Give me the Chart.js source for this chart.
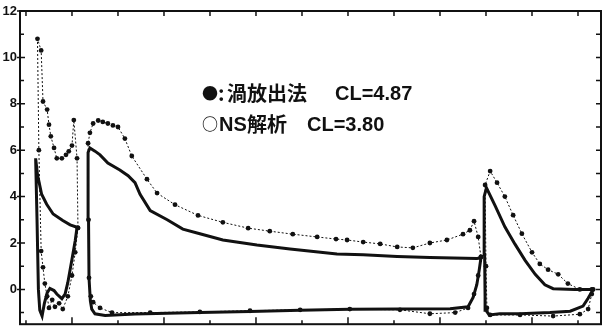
<!DOCTYPE html>
<html>
<head>
<meta charset="utf-8">
<script src="https://cdn.jsdelivr.net/npm/chart.js@4.4.1/dist/chart.umd.min.js"></script>
<style>
  html, body { margin: 0; padding: 0; background: #fff; }
  canvas { display: block; }
</style>
</head>
<body>
<canvas id="chartCp" width="607" height="335"></canvas>
<script>
// eje x: posicion sobre la cuerda, eje y: -Cp
const xTicks = [-0.1, 0, 0.1, 0.2, 0.3, 0.4, 0.5, 0.6, 0.7, 0.8, 0.9, 1.0, 1.1];
const yTicks = [-1, 0, 1, 2, 3, 4, 5, 6, 7, 8, 9, 10, 11, 12];

// 渦放出法 (puntos negros)
const slatVortexUpper = [[-0.075, 10.8], [-0.067, 10.3], [-0.063, 8.1], [-0.054, 7.75], [-0.05, 7.1], [-0.046, 6.6],
  [-0.039, 6.1], [-0.033, 5.65], [-0.022, 5.65], [-0.013, 5.8], [-0.007, 5.95], [0.0, 6.2], [0.004, 7.3], [0.011, 5.65], [0.013, 2.65]];
const slatVortexLower = [[-0.075, 10.8], [-0.072, 6.0], [-0.067, 1.65], [-0.063, 0.95], [-0.059, 0.25], [-0.054, -0.3],
  [-0.05, -0.8], [-0.043, -0.45], [-0.037, -0.75], [-0.028, -0.6], [-0.02, -0.85], [-0.009, -0.3], [0.0, 0.6], [0.007, 1.6], [0.013, 2.65]];
const mainVortexUpper = [[0.035, 6.3], [0.039, 6.75], [0.046, 7.15], [0.057, 7.28], [0.067, 7.22], [0.078, 7.15], [0.089, 7.07],
  [0.1, 7.0], [0.115, 6.5], [0.13, 5.75], [0.163, 4.75], [0.185, 4.15], [0.224, 3.65], [0.274, 3.19], [0.328, 2.89],
  [0.383, 2.64], [0.43, 2.51], [0.48, 2.38], [0.533, 2.26], [0.574, 2.17], [0.598, 2.13], [0.633, 2.04], [0.67, 1.96],
  [0.707, 1.83], [0.741, 1.79], [0.778, 2.0], [0.815, 2.13], [0.85, 2.38], [0.865, 2.55], [0.874, 2.94], [0.883, 2.26], [0.889, 1.4]];
const mainVortexLower = [[0.035, 6.3], [0.036, 3.0], [0.037, 0.5], [0.041, -0.3], [0.046, -0.55], [0.061, -0.8], [0.087, -1.0],
  [0.17, -1.0], [0.278, -0.97], [0.387, -0.92], [0.496, -0.88], [0.604, -0.85], [0.713, -0.88], [0.778, -1.05],
  [0.833, -1.0], [0.861, -0.8], [0.874, -0.2], [0.883, 0.6], [0.889, 1.4]];
const flapVortexUpper = [[0.898, 4.5], [0.909, 5.1], [0.924, 4.6], [0.941, 4.0], [0.959, 3.2], [0.978, 2.4], [1.0, 1.6],
  [1.017, 1.1], [1.035, 0.85], [1.057, 0.65], [1.078, 0.25], [1.104, 0.0], [1.13, 0.0]];
const flapVortexLower = [[0.898, 4.5], [0.9, 1.0], [0.902, -0.8], [0.909, -1.1], [0.974, -1.1], [1.046, -1.15],
  [1.104, -1.07], [1.122, -0.85], [1.13, -0.2], [1.133, 0.0]];

// NS解析 (linea gruesa)
const slatNsUpper = [[-0.079, 5.65], [-0.075, 4.95], [-0.066, 4.1], [-0.055, 3.67], [-0.041, 3.25], [-0.02, 2.97], [-0.004, 2.78], [0.011, 2.68]];
const slatNsLower = [[-0.079, 5.65], [-0.076, 3.0], [-0.073, 0.0], [-0.07, -0.9], [-0.065, -1.15], [-0.06, -0.6], [-0.054, -0.15],
  [-0.048, 0.04], [-0.039, -0.05], [-0.033, -0.2], [-0.022, -0.4], [-0.015, -0.2], [-0.009, 0.3], [0.0, 1.3], [0.007, 2.1], [0.011, 2.68]];
const mainNsUpper = [[0.035, 5.9], [0.039, 6.1], [0.05, 5.96], [0.061, 5.8], [0.078, 5.45], [0.104, 5.15], [0.122, 4.9],
  [0.137, 4.6], [0.148, 4.1], [0.17, 3.4], [0.207, 3.0], [0.241, 2.6], [0.278, 2.4], [0.328, 2.13], [0.402, 1.91],
  [0.474, 1.74], [0.576, 1.53], [0.633, 1.49], [0.707, 1.42], [0.778, 1.37], [0.88, 1.33], [0.889, 1.35]];
const mainNsLower = [[0.035, 5.9], [0.036, 3.0], [0.037, 0.5], [0.04, -0.5], [0.043, -0.85], [0.05, -1.05], [0.072, -1.12],
  [0.137, -1.06], [0.278, -1.0], [0.387, -0.95], [0.496, -0.9], [0.604, -0.86], [0.713, -0.85], [0.822, -0.83],
  [0.861, -0.75], [0.872, -0.35], [0.88, 0.2], [0.885, 0.8], [0.889, 1.35]];
const flapNsUpper = [[0.896, 4.0], [0.901, 4.38], [0.92, 3.6], [0.941, 2.7], [0.963, 1.95], [0.985, 1.25], [1.007, 0.65],
  [1.028, 0.2], [1.046, 0.03], [1.093, 0.0], [1.133, 0.0]];
const flapNsLower = [[0.896, 4.0], [0.897, 1.5], [0.898, -0.3], [0.9, -0.9], [0.907, -1.1], [0.93, -1.05], [0.974, -1.05],
  [1.039, -1.0], [1.083, -0.94], [1.111, -0.72], [1.122, -0.38], [1.133, 0.0]];

const legendVortex = ["●", ":", "渦放出法", "CL=4.87"];
const legendNs = ["○", "NS", "解析", "CL=3.80"];

// une intrados (invertido) + extrados en un solo trazo cerrado
function contorno(lower, upper) {
  return lower.slice().reverse().concat(upper.slice(1)).map(p => ({ x: p[0], y: p[1] }));
}

function serieVortex(lower, upper) {
  return {
    data: contorno(lower, upper),
    borderColor: "#111",
    borderWidth: 1,
    borderDash: [2, 2],
    pointRadius: 2.4,
    pointBackgroundColor: "#111",
    pointBorderWidth: 0,
    order: 0
  };
}

function serieNs(lower, upper) {
  return {
    data: contorno(lower, upper),
    borderColor: "#111",
    borderWidth: 3,
    pointRadius: 0,
    order: 1
  };
}

const marcoPlugin = {
  id: "marco",
  afterDraw(chart) {
    const { ctx, chartArea: a, scales: { x, y } } = chart;
    ctx.save();
    ctx.strokeStyle = "#111";
    ctx.lineWidth = 2;
    ctx.strokeRect(a.left, a.top, a.right - a.left, a.bottom - a.top);

    ctx.lineWidth = 1.5;
    ctx.beginPath();
    xTicks.forEach(v => {
      const px = x.getPixelForValue(v);
      const mayor = Math.round(v * 10) % 2 === 0;
      ctx.moveTo(px, a.bottom);
      ctx.lineTo(px, a.bottom - (mayor ? 7 : 4));
      ctx.moveTo(px, a.top);
      ctx.lineTo(px, a.top + 5);
    });
    yTicks.forEach(v => {
      const py = y.getPixelForValue(v);
      const mayor = v % 2 === 0;
      ctx.moveTo(a.left - (mayor ? 3 : 0), py);
      ctx.lineTo(a.left + (mayor ? 5 : 4), py);
      ctx.moveTo(a.right, py);
      ctx.lineTo(a.right - 5, py);
    });
    ctx.stroke();

    // leyenda
    ctx.fillStyle = "#111";
    ctx.textBaseline = "middle";
    const cjk = 'bold 20px "Noto Sans CJK JP"';
    const simbolo = 'bold 16px "Noto Sans CJK JP"';
    const lat = 'bold 20px "Liberation Sans"';
    ctx.font = simbolo;
    ctx.fillText(legendVortex[0], 202, 93);
    ctx.font = cjk;
    ctx.fillText(legendVortex[1], 218, 93);
    ctx.fillText(legendVortex[2], 227, 93);
    ctx.font = lat;
    ctx.fillText(legendVortex[3], 335, 94);

    ctx.font = simbolo;
    ctx.fillText(legendNs[0], 202, 124);
    ctx.font = lat;
    ctx.fillText(legendNs[1], 219, 125);
    ctx.font = cjk;
    ctx.fillText(legendNs[2], 247, 124);
    ctx.font = lat;
    ctx.fillText(legendNs[3], 307, 125);
    ctx.restore();
  }
};

new Chart(document.getElementById("chartCp"), {
  type: "line",
  data: {
    datasets: [
      serieVortex(slatVortexLower, slatVortexUpper),
      serieVortex(mainVortexLower, mainVortexUpper),
      serieVortex(flapVortexLower, flapVortexUpper),
      serieNs(slatNsLower, slatNsUpper),
      serieNs(mainNsLower, mainNsUpper),
      serieNs(flapNsLower, flapNsUpper)
    ]
  },
  options: {
    responsive: false,
    animation: false,
    devicePixelRatio: 1,
    layout: { padding: { left: 0, top: 11, right: 6, bottom: 6 } },
    elements: { line: { tension: 0 } },
    plugins: {
      legend: { display: false },
      tooltip: { enabled: false }
    },
    scales: {
      x: {
        type: "linear",
        min: -0.113,
        max: 1.15,
        grid: { display: false, drawTicks: false },
        border: { display: false },
        ticks: { display: false },
        afterBuildTicks: scale => { scale.ticks = xTicks.map(v => ({ value: v })); },
        afterFit: scale => { scale.height = 0; }
      },
      y: {
        type: "linear",
        min: -1.5,
        max: 12,
        grid: { display: false, drawTicks: false },
        border: { display: false },
        afterBuildTicks: scale => { scale.ticks = yTicks.map(v => ({ value: v })); },
        afterFit: scale => { scale.width = 20; },
        ticks: {
          padding: 3,
          color: "#111",
          font: { family: "Liberation Sans", size: 13, weight: "bold" },
          callback: v => (v % 2 === 0 ? String(v) : "")
        }
      }
    }
  },
  plugins: [marcoPlugin]
});
</script>
</body>
</html>
